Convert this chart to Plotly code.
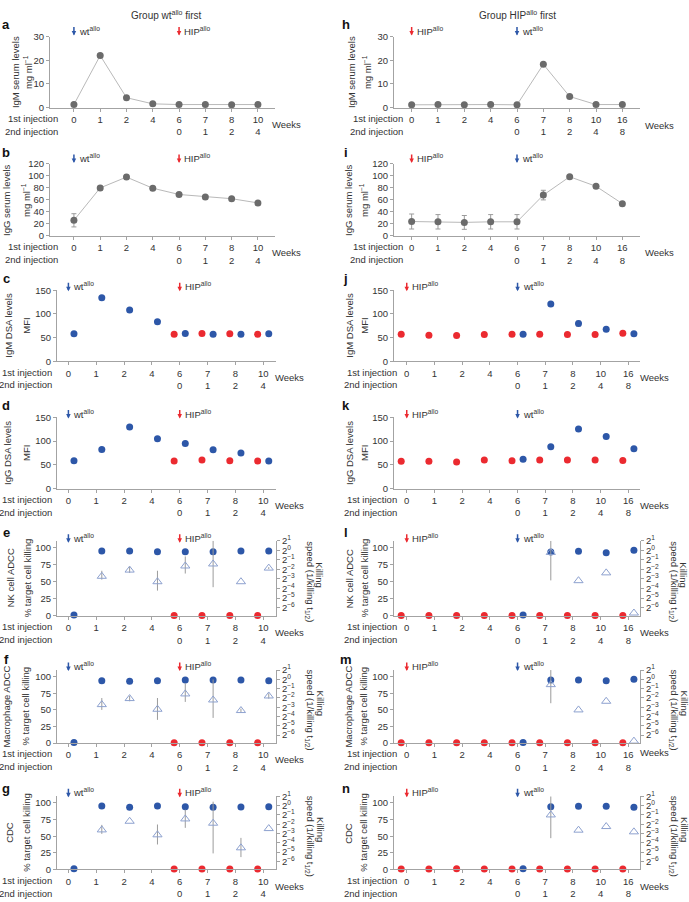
import plotly.graph_objects as go

W, H = 689, 902
FONT = "Liberation Sans, Arial, sans-serif"
TXT = "#333333"
AXC = "#a3a3a3"
BLUE = "#2d57a8"
RED = "#eb2a30"
GREY = "#6b6b6b"
GLINE = "#b9b9b9"
TRI = "#8da1cf"
ERR = "#9b9b9b"
DODGE = 0.2
FS = 9.5

# ---------------- data ----------------
weeks_1st_wt = ["0", "1", "2", "4", "6", "7", "8", "10"]
weeks_2nd_wt = ["", "", "", "", "0", "1", "2", "4"]
weeks_1st_hip = ["0", "1", "2", "4", "6", "7", "8", "10", "16"]
weeks_2nd_hip = ["", "", "", "", "0", "1", "2", "4", "8"]

# IgM serum levels (mg/ml)
a_igm = [1.3, 22.0, 4.2, 1.6, 1.3, 1.3, 1.2, 1.3]
a_igm_sd = [0.3, 0.8, 0.4, 0.2, 0.1, 0.1, 0.1, 0.1]
h_igm = [1.2, 1.3, 1.2, 1.3, 1.2, 18.3, 4.7, 1.3, 1.3]
h_igm_sd = [0.1, 0.1, 0.1, 0.1, 0.1, 0.6, 0.4, 0.1, 0.1]
# IgG serum levels (mg/ml)
b_igg = [26, 80, 98, 79.5, 69, 65, 62, 55]
b_igg_sd = [11, 3, 3.5, 2, 2, 1.5, 1.5, 1.5]
i_igg = [24, 23.5, 22.5, 23.5, 23.5, 68, 98.6, 82.7, 53.7]
i_igg_sd = [12.5, 12, 11.5, 12, 12, 8, 1.5, 1.5, 1.5]
# IgM DSA (MFI)
c_wt = [58, 134, 108, 83.6, 58.7, 57, 57, 58]
c_hip = [None, None, None, None, 56.7, 58.7, 58, 57]
j_hip = [57, 55, 54.4, 56.5, 57, 57, 56.5, 56.5, 59]
j_wt = [None, None, None, None, 57, 121, 79.5, 67.7, 58]
j_wt_sd = [0, 0, 0, 0, 1, 3, 5, 2, 1]
# IgG DSA (MFI)
d_wt = [58.6, 82.5, 130, 105, 95, 82, 75, 58]
d_hip = [None, None, None, None, 58, 60, 58.6, 58]
k_hip = [57.6, 57.6, 56, 60, 58.7, 60, 60, 60, 59]
k_wt = [None, None, None, None, 61.8, 88, 125.6, 109.7, 84]

# killing (% target cell killing) and log2 killing speed (1/t1/2)
e_hip = [None, None, None, None, 0.5, 0.5, 0.5, 0.5]
e_wt = [1, 95, 95, 94, 94, 94, 95, 95]
e_spd = [None, -2.72, -2.07, -3.29, -1.64, -1.43, -3.29, -1.86]
e_spd_up = [0, 0.58, 0.35, 1.15, 1.0, 2.43, 0, 0.1]
e_spd_dn = [0, 0.35, 0.29, 0.93, 0.79, 2.43, 0, 0.1]

f_hip = [None, None, None, None, 0.5, 0.5, 0.5, 0.5]
f_wt = [1, 94, 93, 94, 95, 95, 95, 94]
f_spd = [None, -2.72, -2.07, -3.22, -1.57, -2.22, -3.36, -1.79]
f_spd_up = [0, 0.71, 0.29, 1.21, 1.14, 2.21, 0.21, 0.29]
f_spd_dn = [0, 0.57, 0.29, 1.14, 0.86, 1.93, 0.21, 0.29]

g_hip = [None, None, None, None, 0.5, 0.5, 0.5, 0.5]
g_wt = [1, 95.5, 93.5, 95.5, 94.5, 93.5, 94, 94.5]
g_spd = [None, -2.61, -1.68, -3.14, -1.43, -1.89, -4.54, -2.47]
g_spd_up = [0, 0.54, 0, 1.11, 1.0, 2.32, 1.07, 0]
g_spd_dn = [0, 0.43, 0, 1.04, 0.96, 3.25, 1.0, 0]

l_hip = [0.5, 0.5, 0.5, 0.5, 0.5, 0.5, 0.5, 0.5, 0.5]
l_wt = [None, None, None, None, 1, 93.5, 94.5, 92.5, 96]
l_spd = [None, None, None, None, None, -0.22, -3.18, -2.36, -6.57]
l_spd_up = [0, 0, 0, 0, 0, 1.21, 0, 0, 0]
l_spd_dn = [0, 0, 0, 0, 0, 2.93, 0, 0, 0]

m_hip = [0.5, 0.5, 0.5, 0.5, 0.5, 0.5, 0.5, 0.5, 0.5]
m_wt = [None, None, None, None, 1, 95, 95, 94, 96]
m_spd = [None, None, None, None, None, -0.57, -3.29, -2.36, -6.65]
m_spd_up = [0, 0, 0, 0, 0, 1.57, 0, 0, 0]
m_spd_dn = [0, 0, 0, 0, 0, 2.0, 0, 0, 0]

n_hip = [0.5, 0.5, 0.8, 0.5, 0.5, 0.5, 0.5, 0.5, 0.5]
n_wt = [None, None, None, None, 1, 94.5, 95, 95, 93.5]
n_spd = [None, None, None, None, None, -1.0, -2.64, -2.25, -2.82]
n_spd_up = [0, 0, 0, 0, 0, 2.0, 0, 0, 0]
n_spd_dn = [0, 0, 0, 0, 0, 2.5, 0, 0, 0]

speed_exponents = [-6, -5, -4, -3, -2, -1, 0, 1]

# ---------------- layout specs (pixels) ----------------
panels = [
    dict(letter="a", col="L", xpx=(50, 275), ypx=(30, 102), xr=(-0.91, 7.65), yr=(0, 30), yt=[0, 10, 20, 30],
         kind="serum", data=(a_igm, a_igm_sd), titles=("IgM serum levels", "mg ml<sup>−1</sup>"), tx=(15, 28),
         leg=24, ly=18, wdy=17, lab=60, wx=270),
    dict(letter="b", col="L", xpx=(50, 275), ypx=(159, 232), xr=(-0.91, 7.65), yr=(0, 120), yt=[0, 20, 40, 60, 80, 100, 120],
         kind="serum", data=(b_igg, b_igg_sd), titles=("IgG serum levels", "mg ml<sup>−1</sup>"), tx=(7, 26),
         leg=153, ly=147, wdy=17, lab=60, wx=270),
    dict(letter="c", col="L", xpx=(57, 276), ypx=(287, 359), xr=(-0.41, 7.46), yr=(0, 150), yt=[0, 50, 100, 150],
         kind="dsa", data=(c_hip, c_wt, None), titles=("IgM DSA levels", "MFI"), tx=(9, 27),
         leg=283, ly=275, wdy=17, lab=54, wx=273),
    dict(letter="d", col="L", xpx=(57, 276), ypx=(416, 488), xr=(-0.41, 7.46), yr=(0, 150), yt=[0, 50, 100, 150],
         kind="dsa", data=(d_hip, d_wt, None), titles=("IgG DSA levels", "MFI"), tx=(8, 27),
         leg=412, ly=404, wdy=17, lab=54, wx=273),
    dict(letter="e", col="L", xpx=(57, 276), ypx=(541, 617), xr=(-0.41, 7.46), yr=(0, 110), yt=[0, 25, 50, 75, 100],
         kind="kill", data=(e_hip, e_wt, e_spd, e_spd_up, e_spd_dn), titles=("NK cell ADCC", "% target cell killing"), tx=(10, 27),
         leg=538, ly=533, wdy=17, lab=54, wx=273),
    dict(letter="f", col="L", xpx=(57, 276), ypx=(672, 746), xr=(-0.41, 7.46), yr=(0, 110), yt=[0, 25, 50, 75, 100],
         kind="kill", data=(f_hip, f_wt, f_spd, f_spd_up, f_spd_dn), titles=("Macrophage ADCC", "% target cell killing"), tx=(7, 26),
         leg=668, ly=661, wdy=17, lab=54, wx=273),
    dict(letter="g", col="L", xpx=(57, 276), ypx=(800, 874), xr=(-0.41, 7.46), yr=(0, 110), yt=[0, 25, 50, 75, 100],
         kind="kill", data=(g_hip, g_wt, g_spd, g_spd_up, g_spd_dn), titles=("CDC", "% target cell killing"), tx=(10, 27),
         leg=796, ly=792, wdy=17, lab=54, wx=273),
    dict(letter="h", col="R", xpx=(394, 640), ypx=(30, 102), xr=(-0.67, 8.67), yr=(0, 30), yt=[0, 10, 20, 30],
         kind="serum", data=(h_igm, h_igm_sd), titles=("IgM serum levels", "mg ml<sup>−1</sup>"), tx=(351, 367),
         leg=24, ly=18, wdy=18, lab=405, wx=643),
    dict(letter="i", col="R", xpx=(394, 640), ypx=(159, 232), xr=(-0.67, 8.67), yr=(0, 120), yt=[0, 20, 40, 60, 80, 100, 120],
         kind="serum", data=(i_igg, i_igg_sd), titles=("IgG serum levels", "mg ml<sup>−1</sup>"), tx=(349, 364),
         leg=153, ly=147, wdy=17, lab=405, wx=643),
    dict(letter="j", col="R", xpx=(394, 640), ypx=(287, 359), xr=(-0.46, 8.42), yr=(0, 150), yt=[0, 50, 100, 150],
         kind="dsa", data=(j_hip, j_wt, j_wt_sd), titles=("IgM DSA levels", "MFI"), tx=(350, 365),
         leg=283, ly=275, wdy=17, lab=399, wx=638),
    dict(letter="k", col="R", xpx=(394, 640), ypx=(416, 488), xr=(-0.46, 8.42), yr=(0, 150), yt=[0, 50, 100, 150],
         kind="dsa", data=(k_hip, k_wt, None), titles=("IgG DSA levels", "MFI"), tx=(350, 365),
         leg=412, ly=404, wdy=17, lab=399, wx=638),
    dict(letter="l", col="R", xpx=(394, 640), ypx=(541, 617), xr=(-0.46, 8.42), yr=(0, 110), yt=[0, 25, 50, 75, 100],
         kind="kill", data=(l_hip, l_wt, l_spd, l_spd_up, l_spd_dn), titles=("NK cell ADCC", "% target cell killing"), tx=(349, 364),
         leg=538, ly=533, wdy=17, lab=399, wx=638),
    dict(letter="m", col="R", xpx=(394, 640), ypx=(672, 746), xr=(-0.46, 8.42), yr=(0, 110), yt=[0, 25, 50, 75, 100],
         kind="kill", data=(m_hip, m_wt, m_spd, m_spd_up, m_spd_dn), titles=("Macrophage ADCC", "% target cell killing"), tx=(349, 364),
         leg=668, ly=661, wdy=10, lab=399, wx=638),
    dict(letter="n", col="R", xpx=(394, 640), ypx=(800, 874), xr=(-0.46, 8.42), yr=(0, 110), yt=[0, 25, 50, 75, 100],
         kind="kill", data=(n_hip, n_wt, n_spd, n_spd_up, n_spd_dn), titles=("CDC", "% target cell killing"), tx=(349, 364),
         leg=796, ly=792, wdy=17, lab=399, wx=638),
]

fig = go.Figure()
layout = {}
annotations = []


def ann(x, y, text, size=FS, xanchor="center", yanchor="middle", angle=0, color=TXT):
    annotations.append(dict(x=x / W, y=1 - y / H, xref="paper", yref="paper", text=text, showarrow=False,
                            font=dict(family=FONT, size=size, color=color), xanchor=xanchor, yanchor=yanchor,
                            textangle=angle))


def ax_common():
    return dict(showline=True, linecolor=AXC, linewidth=1, ticks="outside", ticklen=3, tickcolor=AXC,
                tickwidth=1, tickfont=dict(family=FONT, size=FS, color=TXT), showgrid=False, zeroline=False,
                fixedrange=True)


right_id = 15
for n, p in enumerate(panels, start=1):
    xs = "x" if n == 1 else f"x{n}"
    ys = "y" if n == 1 else f"y{n}"
    xk = "xaxis" if n == 1 else f"xaxis{n}"
    yk = "yaxis" if n == 1 else f"yaxis{n}"
    first = weeks_1st_wt if p["col"] == "L" else weeks_1st_hip
    second = weeks_2nd_wt if p["col"] == "L" else weeks_2nd_hip
    idx = list(range(len(first)))
    x0, x1 = p["xpx"]
    y0, y1 = p["ypx"]
    xa = ax_common()
    xa.update(domain=[x0 / W, x1 / W], anchor=ys, range=list(p["xr"]), tickmode="array", tickvals=idx,
              ticktext=[f"{a}<br>{b}" if b else a for a, b in zip(first, second)])
    ya = ax_common()
    ya.update(domain=[1 - y1 / H, 1 - y0 / H], anchor=xs, range=list(p["yr"]), tickmode="array", tickvals=p["yt"])
    layout[xk] = xa
    layout[yk] = ya

    if p["kind"] == "serum":
        vals, sd = p["data"]
        fig.add_trace(go.Scatter(x=idx, y=vals, mode="lines+markers", line=dict(color=GLINE, width=1),
                                 marker=dict(color=GREY, size=7),
                                 error_y=dict(type="data", array=sd, color=ERR, thickness=1, width=2.5),
                                 xaxis=xs, yaxis=ys, showlegend=False, cliponaxis=False))
    elif p["kind"] == "dsa":
        hip, wt, wt_sd = p["data"]
        fig.add_trace(go.Scatter(x=[i - DODGE for i in idx], y=hip, mode="markers", marker=dict(color=RED, size=7),
                                 xaxis=xs, yaxis=ys, showlegend=False, cliponaxis=False))
        tr = dict(x=[i + DODGE for i in idx], y=wt, mode="markers", marker=dict(color=BLUE, size=7),
                  xaxis=xs, yaxis=ys, showlegend=False, cliponaxis=False)
        if wt_sd is not None:
            tr["error_y"] = dict(type="data", array=wt_sd, color=ERR, thickness=1, width=2.5)
        fig.add_trace(go.Scatter(**tr))
    else:
        hip, wt, spd, up, dn = p["data"]
        y2s = f"y{right_id}"
        y2k = f"yaxis{right_id}"
        right_id += 1
        ra = ax_common()
        ra.update(overlaying=ys, side="right", anchor=xs, range=[-6.86, 1], tickmode="array",
                  tickvals=speed_exponents,
                  ticktext=[f"2<sup>{str(k).replace('-', '−')}</sup>" for k in speed_exponents])
        layout[y2k] = ra
        fig.add_trace(go.Scatter(x=[i - DODGE for i in idx], y=hip, mode="markers", marker=dict(color=RED, size=7),
                                 xaxis=xs, yaxis=ys, showlegend=False, cliponaxis=False))
        fig.add_trace(go.Scatter(x=[i + DODGE for i in idx], y=wt, mode="markers", marker=dict(color=BLUE, size=7),
                                 xaxis=xs, yaxis=ys, showlegend=False, cliponaxis=False))
        fig.add_trace(go.Scatter(x=[i + DODGE for i in idx], y=spd, mode="markers",
                                 marker=dict(symbol="triangle-up-open", color=TRI, size=8, line=dict(width=1, color=TRI)),
                                 error_y=dict(type="data", array=up, arrayminus=dn, symmetric=False, color=ERR,
                                              thickness=1, width=0),
                                 xaxis=xs, yaxis=y2s, showlegend=False, cliponaxis=False))
        mid = (y0 + y1) / 2
        ann(x1 + 34, mid + 3, "speed (1/killing t<sub>1/2</sub>)", angle=90)
        ann(x1 + 44, mid - 4, "Killing", angle=90)

    # letter
    ann(6 if p["col"] == "L" else 346, p["ly"], f"<b>{p['letter']}</b>", size=13, color="#111111")
    # y titles
    ann(p["tx"][0], (y0 + y1) / 2, p["titles"][0], angle=-90)
    ann(p["tx"][1], (y0 + y1) / 2, p["titles"][1], angle=-90)
    # injection labels
    ann(p["lab"], y1 + 11, "1st injection", xanchor="right")
    ann(p["lab"], y1 + 24, "2nd injection", xanchor="right")
    ann(p["wx"], y1 + p["wdy"], "Weeks", xanchor="left")
    # arrows legend
    if p["col"] == "L":
        legs = [(0, BLUE, "wt<sup>allo</sup>"), (4, RED, "HIP<sup>allo</sup>")]
    else:
        legs = [(0, RED, "HIP<sup>allo</sup>"), (4, BLUE, "wt<sup>allo</sup>")]
    for xi, col, txt in legs:
        annotations.append(dict(x=xi, y=1 - (p["leg"] + 5) / H, xref=xs, yref="paper", text="", showarrow=True,
                                arrowhead=2, arrowsize=0.6, arrowwidth=1.5, arrowcolor=col, ax=0, ay=-10))
        annotations.append(dict(x=xi, y=1 - p["leg"] / H, xref=xs, yref="paper", text=txt, showarrow=False,
                                xanchor="left", yanchor="middle", xshift=3,
                                font=dict(family=FONT, size=FS, color=TXT)))

ann(166, 8, "Group wt<sup>allo</sup> first", size=10)
ann(517, 8, "Group HIP<sup>allo</sup> first", size=10)

fig.update_layout(width=W, height=H, autosize=False, margin=dict(l=0, r=0, t=0, b=0),
                  paper_bgcolor="white", plot_bgcolor="rgba(0,0,0,0)", showlegend=False,
                  font=dict(family=FONT, size=FS, color=TXT), annotations=annotations, **layout)
fig.write_html("out.html", config={"displayModeBar": False},
               post_script="document.body.style.margin='0px';document.body.style.overflow='hidden';")
